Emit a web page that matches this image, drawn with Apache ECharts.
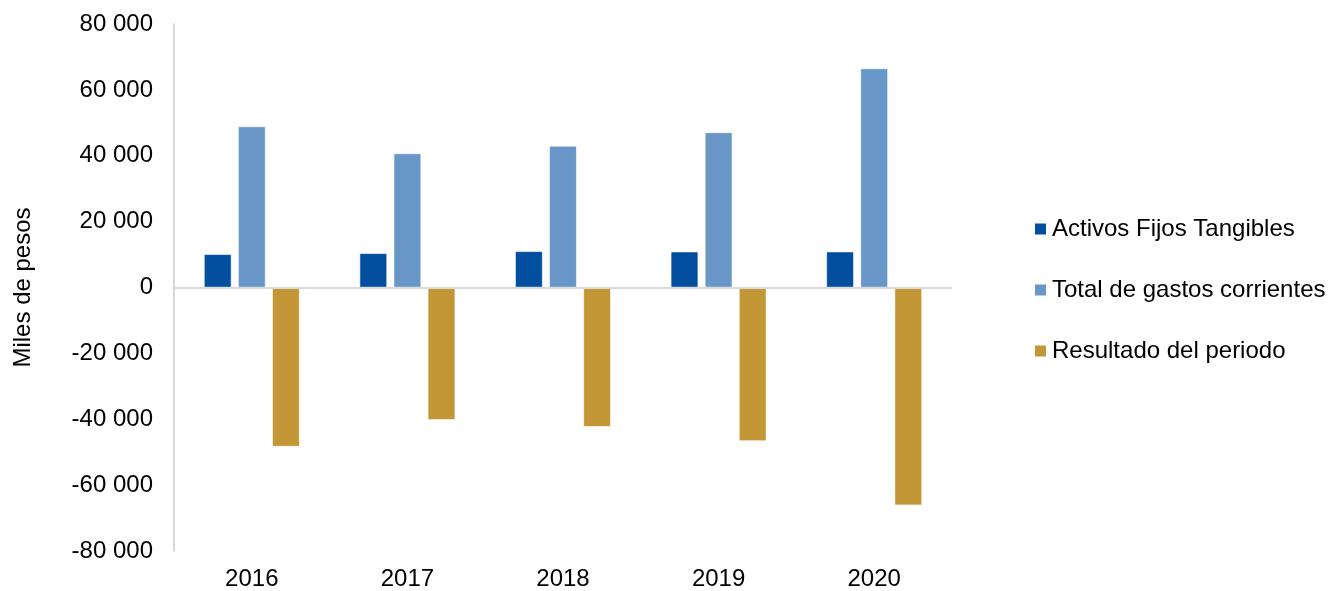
<!DOCTYPE html>
<html>
<head>
<meta charset="utf-8">
<script src="https://cdn.jsdelivr.net/npm/echarts@6/dist/echarts.min.js"></script>
<style>
html,body{margin:0;padding:0;background:#fff;}
#c{width:1340px;height:591px;}
</style>
</head>
<body>
<div id="c"></div>
<script>
var categories = ['2016', '2017', '2018', '2019', '2020'];
var activosFijos = [10100, 10400, 11000, 10900, 10900];
var gastosCorrientes = [48900, 40700, 43000, 47100, 66500];
var resultadoPeriodo = [-48300, -40200, -42300, -46600, -66100];
var seriesNames = ['Activos Fijos Tangibles', 'Total de gastos corrientes', 'Resultado del periodo'];
var yTitle = 'Miles de pesos';

function fmt(v) {
  var s = Math.abs(v).toString().replace(/\B(?=(\d{3})+(?!\d))/g, ' ');
  return (v < 0 ? '-' : '') + s;
}

var font = '"Liberation Sans", Arial, sans-serif';
var chart = echarts.init(document.getElementById('c'), null, {renderer: 'canvas'});
chart.setOption({
  backgroundColor: '#ffffff',
  animation: false,
  textStyle: {fontFamily: font},
  grid: {left: 174, right: 388, top: 24, bottom: 40, containLabel: false},
  legend: {
    orient: 'vertical',
    left: 1033,
    top: 217,
    padding: 0,
    icon: 'rect',
    itemWidth: 13,
    itemHeight: 13,
    itemGap: 37,
    textStyle: {fontFamily: font, fontSize: 24, color: '#000', lineHeight: 24},
    data: seriesNames
  },
  xAxis: {
    type: 'category',
    data: categories,
    axisLine: {show: false, onZero: false},
    axisTick: {show: false},
    axisLabel: {fontFamily: font, fontSize: 24, color: '#000', margin: 16}
  },
  yAxis: {
    type: 'value',
    min: -80000,
    max: 80000,
    interval: 20000,
    name: yTitle,
    nameLocation: 'middle',
    nameGap: 139,
    nameRotate: 90,
    nameTextStyle: {fontFamily: font, fontSize: 24, color: '#000'},
    axisLine: {show: true, lineStyle: {color: '#C8C8C8', width: 1.5}},
    axisTick: {show: false},
    splitLine: {show: false},
    axisLabel: {fontFamily: font, fontSize: 24, color: '#000', margin: 21, formatter: fmt}
  },
  series: [
    {
      name: seriesNames[0], type: 'bar', data: activosFijos,
      barGap: '24%', barCategoryGap: '38.5%',
      itemStyle: {color: '#024F9F', borderColor: '#ffffff', borderWidth: 0.6},
      markLine: {
        silent: true, symbol: 'none', label: {show: false},
        lineStyle: {color: '#D9D9D9', width: 2, type: 'solid'},
        data: [{yAxis: 0}]
      }
    },
    {
      name: seriesNames[1], type: 'bar', data: gastosCorrientes,
      itemStyle: {color: '#6896C6', borderColor: '#ffffff', borderWidth: 0.6}
    },
    {
      name: seriesNames[2], type: 'bar', data: resultadoPeriodo,
      itemStyle: {color: '#C39735', borderColor: '#ffffff', borderWidth: 0.6}
    }
  ]
});
</script>
</body>
</html>
